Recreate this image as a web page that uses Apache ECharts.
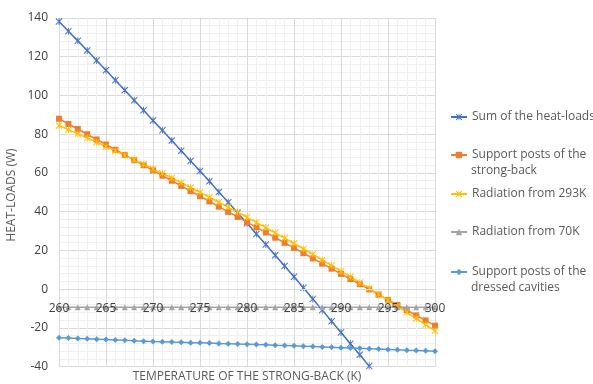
<!DOCTYPE html>
<html><head><meta charset="utf-8">
<script src="https://cdn.jsdelivr.net/npm/echarts@6/dist/echarts.min.js"></script>
<style>html,body{margin:0;padding:0;background:#fff}#c{width:593px;height:384px}</style>
</head><body><div id="c"></div>
<script>
const temperatures = [260,261,262,263,264,265,266,267,268,269,270,271,272,273,274,275,276,277,278,279,280,281,282,283,284,285,286,287,288,289,290,291,292,293,294,295,296,297,298,299,300];
const sumLoads = [138.2,133.2,128.2,123.2,118.1,113.0,107.9,102.7,97.5,92.4,87.1,82.0,76.8,71.5,66.2,61.0,55.7,50.2,44.9,39.5,34.0,28.5,23.1,17.5,12.0,6.4,0.7,-5.0,-10.8,-16.5,-22.3,-28.1,-33.8,-39.7];
const strongBackPosts = [88.0,85.3,82.7,80.0,77.3,74.7,72.0,69.3,66.6,64.0,61.3,58.6,56.0,53.3,50.6,48.0,45.3,42.6,39.9,37.3,34.6,31.9,29.3,26.6,23.9,21.3,18.6,15.9,13.2,10.6,7.9,5.2,2.6,-0.1,-2.8,-5.5,-8.1,-10.8,-13.5,-16.1,-18.8];
const radiation293 = [84.5,82.4,80.2,78.1,75.9,73.6,71.4,69.1,66.8,64.5,62.1,59.8,57.4,54.9,52.5,50.0,47.5,44.9,42.4,39.8,37.1,34.5,31.8,29.1,26.4,23.6,20.8,18.0,15.1,12.2,9.3,6.4,3.4,0.4,-2.6,-5.7,-8.8,-11.9,-15.1,-18.3,-21.5];
const radiation70 = [-9.3,-9.3,-9.3,-9.3,-9.3,-9.3,-9.3,-9.3,-9.3,-9.3,-9.3,-9.3,-9.3,-9.3,-9.3,-9.3,-9.3,-9.3,-9.3,-9.3,-9.3,-9.3,-9.3,-9.3,-9.3,-9.3,-9.3,-9.3,-9.3,-9.3,-9.3,-9.3,-9.3,-9.3,-9.3,-9.3,-9.3,-9.3,-9.3,-9.3,-9.3];
const cavityPosts = [-25.0,-25.2,-25.4,-25.6,-25.8,-26.0,-26.2,-26.4,-26.6,-26.8,-27.0,-27.1,-27.3,-27.4,-27.6,-27.7,-27.8,-28.0,-28.1,-28.3,-28.4,-28.6,-28.7,-28.9,-29.0,-29.2,-29.4,-29.6,-29.8,-30.0,-30.2,-30.4,-30.5,-30.7,-30.9,-31.1,-31.3,-31.5,-31.6,-31.8,-32.0];
const seriesNames = ['Sum of the heat-loads','Support posts of the strong-back','Radiation from 293K','Radiation from 70K','Support posts of the dressed cavities'];
const legendFirstLines = ['Sum of the heat-loads','Support posts of the','Radiation from 293K','Radiation from 70K','Support posts of the'];
const legendSecondLines = ['','strong-back','','','dressed cavities'];

const FONT = 'Open Sans';
const TXT = '#595959';
const ASTER = 'path://M0,1L1,0L5,4L9,0L10,1L6,5L10,9L9,10L5,6L1,10L0,9L4,5Z M4.4,0L5.6,0L5.6,10L4.4,10Z';
const pairs = arr => arr.map((v,i)=>[temperatures[i], v]);

const chart = echarts.init(document.getElementById('c'), null, {renderer:'canvas'});

function mk(name, data, color, symbol, size){
  return {name, type:'line', data:pairs(data), color, symbol, symbolSize:size,
    lineStyle:{color, width:1.5}, itemStyle:{color}, clip:true, animation:false, z:2};
}
// centre y of first line of each legend entry
const legendCentres = [115, 153, 192, 230, 270];
const legends = seriesNames.map((n,i)=>({
  data:[n], left:450, top:legendCentres[i]-6.5, orient:'vertical',
  itemWidth:16, itemHeight:8, itemGap:0, padding:0, selectedMode:false,
  formatter: ()=>legendFirstLines[i],
  textStyle:{fontFamily:FONT, fontSize:12, color:TXT, lineHeight:17}
}));
const secondLineGraphics = legendSecondLines.map((t,i)=> t ? ({
  type:'text', x:471, y:legendCentres[i]+18,
  style:{text:t, verticalAlign:'middle', align:'left', fontSize:12, fontFamily:FONT, fill:TXT}
}) : null).filter(Boolean);

chart.setOption({
  backgroundColor:'#fff',
  animation:false,
  textStyle:{fontFamily:FONT},
  grid:{left:59, right:158, top:18, bottom:17.3, containLabel:false, outerBoundsMode:'none'},
  legend: legends,
  xAxis:[{
    type:'value', min:260, max:300, interval:5, position:'top',
    axisLine:{show:false, onZero:false}, axisTick:{show:false}, axisLabel:{show:false},
    splitLine:{show:true, lineStyle:{color:'#D9D9D9', width:1}},
    minorTick:{show:false, splitNumber:5},
    minorSplitLine:{show:true, lineStyle:{color:'#F0F0F0', width:1}}, z:0
  },{
    type:'value', min:260, max:300, interval:5, gridIndex:0, position:'bottom', offset:-77.5,
    axisLine:{show:true, onZero:false, lineStyle:{color:'#D9D9D9', width:1}},
    axisTick:{show:false},
    axisLabel:{color:'#404040', fontSize:12, fontFamily:FONT, margin:13},
    splitLine:{show:false}, z:5
  }],
  yAxis:{
    type:'value', min:-40, max:140, interval:20,
    axisLine:{show:false}, axisTick:{show:false},
    axisLabel:{color:'#404040', fontSize:12, fontFamily:FONT, margin:11},
    splitLine:{show:true, lineStyle:{color:'#D9D9D9', width:1}},
    minorTick:{show:false, splitNumber:5},
    minorSplitLine:{show:true, lineStyle:{color:'#F0F0F0', width:1}}
  },
  graphic:[
    {type:'text', x:247, y:377, style:{text:'TEMPERATURE OF THE STRONG-BACK (K)', align:'center', verticalAlign:'middle', fontSize:12, fontFamily:FONT, fill:TXT}},
    {type:'text', x:12, y:195, rotation:Math.PI/2, style:{text:'HEAT-LOADS (W)', align:'center', verticalAlign:'middle', fontSize:12, fontFamily:FONT, fill:TXT}}
  ].concat(secondLineGraphics),
  series:[
    mk(seriesNames[0], sumLoads, '#4472C4', ASTER, 7),
    mk(seriesNames[1], strongBackPosts, '#ED7D31', 'rect', 6),
    mk(seriesNames[2], radiation293, '#FFC000', ASTER, 7),
    mk(seriesNames[3], radiation70, '#A5A5A5', 'triangle', 6),
    mk(seriesNames[4], cavityPosts, '#5B9BD5', 'diamond', 6)
  ]
});
</script></body></html>
